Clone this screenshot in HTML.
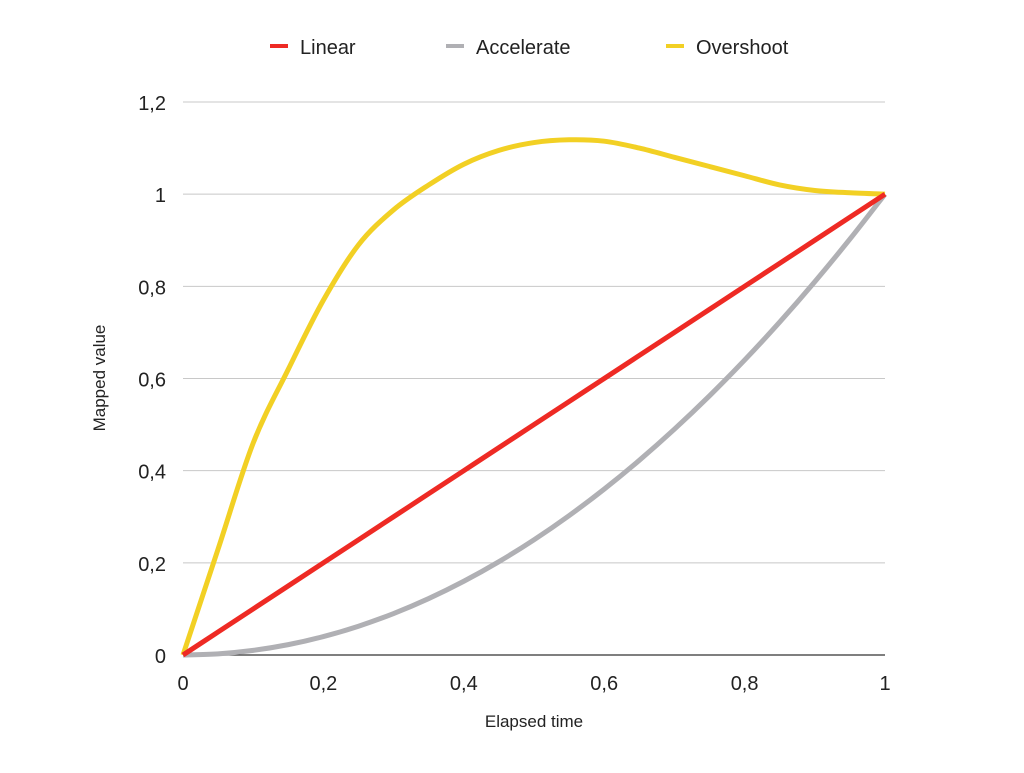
<!DOCTYPE html>
<html><head><meta charset="utf-8"><style>
body{margin:0;background:#fff;}
svg text{font-family:"Liberation Sans",sans-serif;fill:#222;}
</style></head><body>
<svg width="1024" height="768">
<g id="grid"></g>
<g id="yt"></g>
<g id="xt"></g>
<g id="series"></g>
<text x="105" y="378" font-size="17" text-anchor="middle" transform="rotate(-90 105 378)">Mapped value</text>
<text x="534" y="727" font-size="17" text-anchor="middle">Elapsed time</text>
<g>
<g><line x1="270" y1="46" x2="288" y2="46" stroke="#ee2a24" stroke-width="4"/><text x="300" y="54" font-size="20">Linear</text></g>
<g><line x1="446" y1="46" x2="464" y2="46" stroke="#b0b0b4" stroke-width="4"/><text x="476" y="54" font-size="20">Accelerate</text></g>
<g><line x1="666" y1="46" x2="684" y2="46" stroke="#f2d024" stroke-width="4"/><text x="696" y="54" font-size="20">Overshoot</text></g>
</g>
</svg>
<script>
const xs=[0,0.05,0.1,0.15,0.2,0.25,0.3,0.35,0.4,0.45,0.5,0.55,0.6,0.65,0.7,0.75,0.8,0.85,0.9,0.95,1];
const linear=[0,0.05,0.1,0.15,0.2,0.25,0.3,0.35,0.4,0.45,0.5,0.55,0.6,0.65,0.7,0.75,0.8,0.85,0.9,0.95,1];
const accelerate=[0,0.0025,0.01,0.0225,0.04,0.0625,0.09,0.1225,0.16,0.2025,0.25,0.3025,0.36,0.4225,0.49,0.5625,0.64,0.7225,0.81,0.9025,1];
const overshoot=[0,0.23,0.46,0.62,0.77,0.89,0.966,1.02,1.065,1.095,1.112,1.118,1.115,1.1,1.08,1.06,1.04,1.02,1.008,1.003,1];
const yTicks=[0,0.2,0.4,0.6,0.8,1,1.2];
const xTicks=[0,0.2,0.4,0.6,0.8,1];
const fmt=v=>String(+v.toFixed(1)).replace('.',',');
const X=v=>183+702*v, Y=v=>655-(553/1.2)*v;
const NS='http://www.w3.org/2000/svg';
function mk(t,p,a){const e=document.createElementNS(NS,t);for(const k in a)e.setAttribute(k,a[k]);p.appendChild(e);return e;}
const grid=document.getElementById('grid'),yt=document.getElementById('yt'),xt=document.getElementById('xt'),ser=document.getElementById('series');
yTicks.forEach(v=>{
 const l=mk('line',grid,{x1:183,x2:885,y1:Y(v),y2:Y(v),stroke:v===0?'#333':'#c8c8c8','stroke-width':v===0?1.2:1});
 
 
 const t=mk('text',yt,{x:166,y:Y(v)+8,'font-size':20,'text-anchor':'end'});t.textContent=fmt(v);
 
 
});
xTicks.forEach(v=>{
 const t=mk('text',xt,{x:X(v),y:690,'font-size':20,'text-anchor':'middle'});t.textContent=fmt(v);
 
 
});
function path(vals){
 const p=xs.map((x,i)=>[X(x),Y(vals[i])]);
 let d='M'+p[0][0]+','+p[0][1];
 for(let i=0;i<p.length-1;i++){
  const p0=p[Math.max(0,i-1)],p1=p[i],p2=p[i+1],p3=p[Math.min(p.length-1,i+2)];
  d+=' C'+(p1[0]+(p2[0]-p0[0])/6)+','+(p1[1]+(p2[1]-p0[1])/6)+' '+(p2[0]-(p3[0]-p1[0])/6)+','+(p2[1]-(p3[1]-p1[1])/6)+' '+p2[0]+','+p2[1];
 }
 return d;
}
[['accelerate',accelerate,'#b0b0b4'],['overshoot',overshoot,'#f2d024'],['linear',linear,'#ee2a24']].forEach(([n,v,c])=>{
 const e=mk('path',ser,{d:path(v),fill:'none',stroke:c,'stroke-width':5,'stroke-linejoin':'round'});
 
 
});
</script>
</body></html>
